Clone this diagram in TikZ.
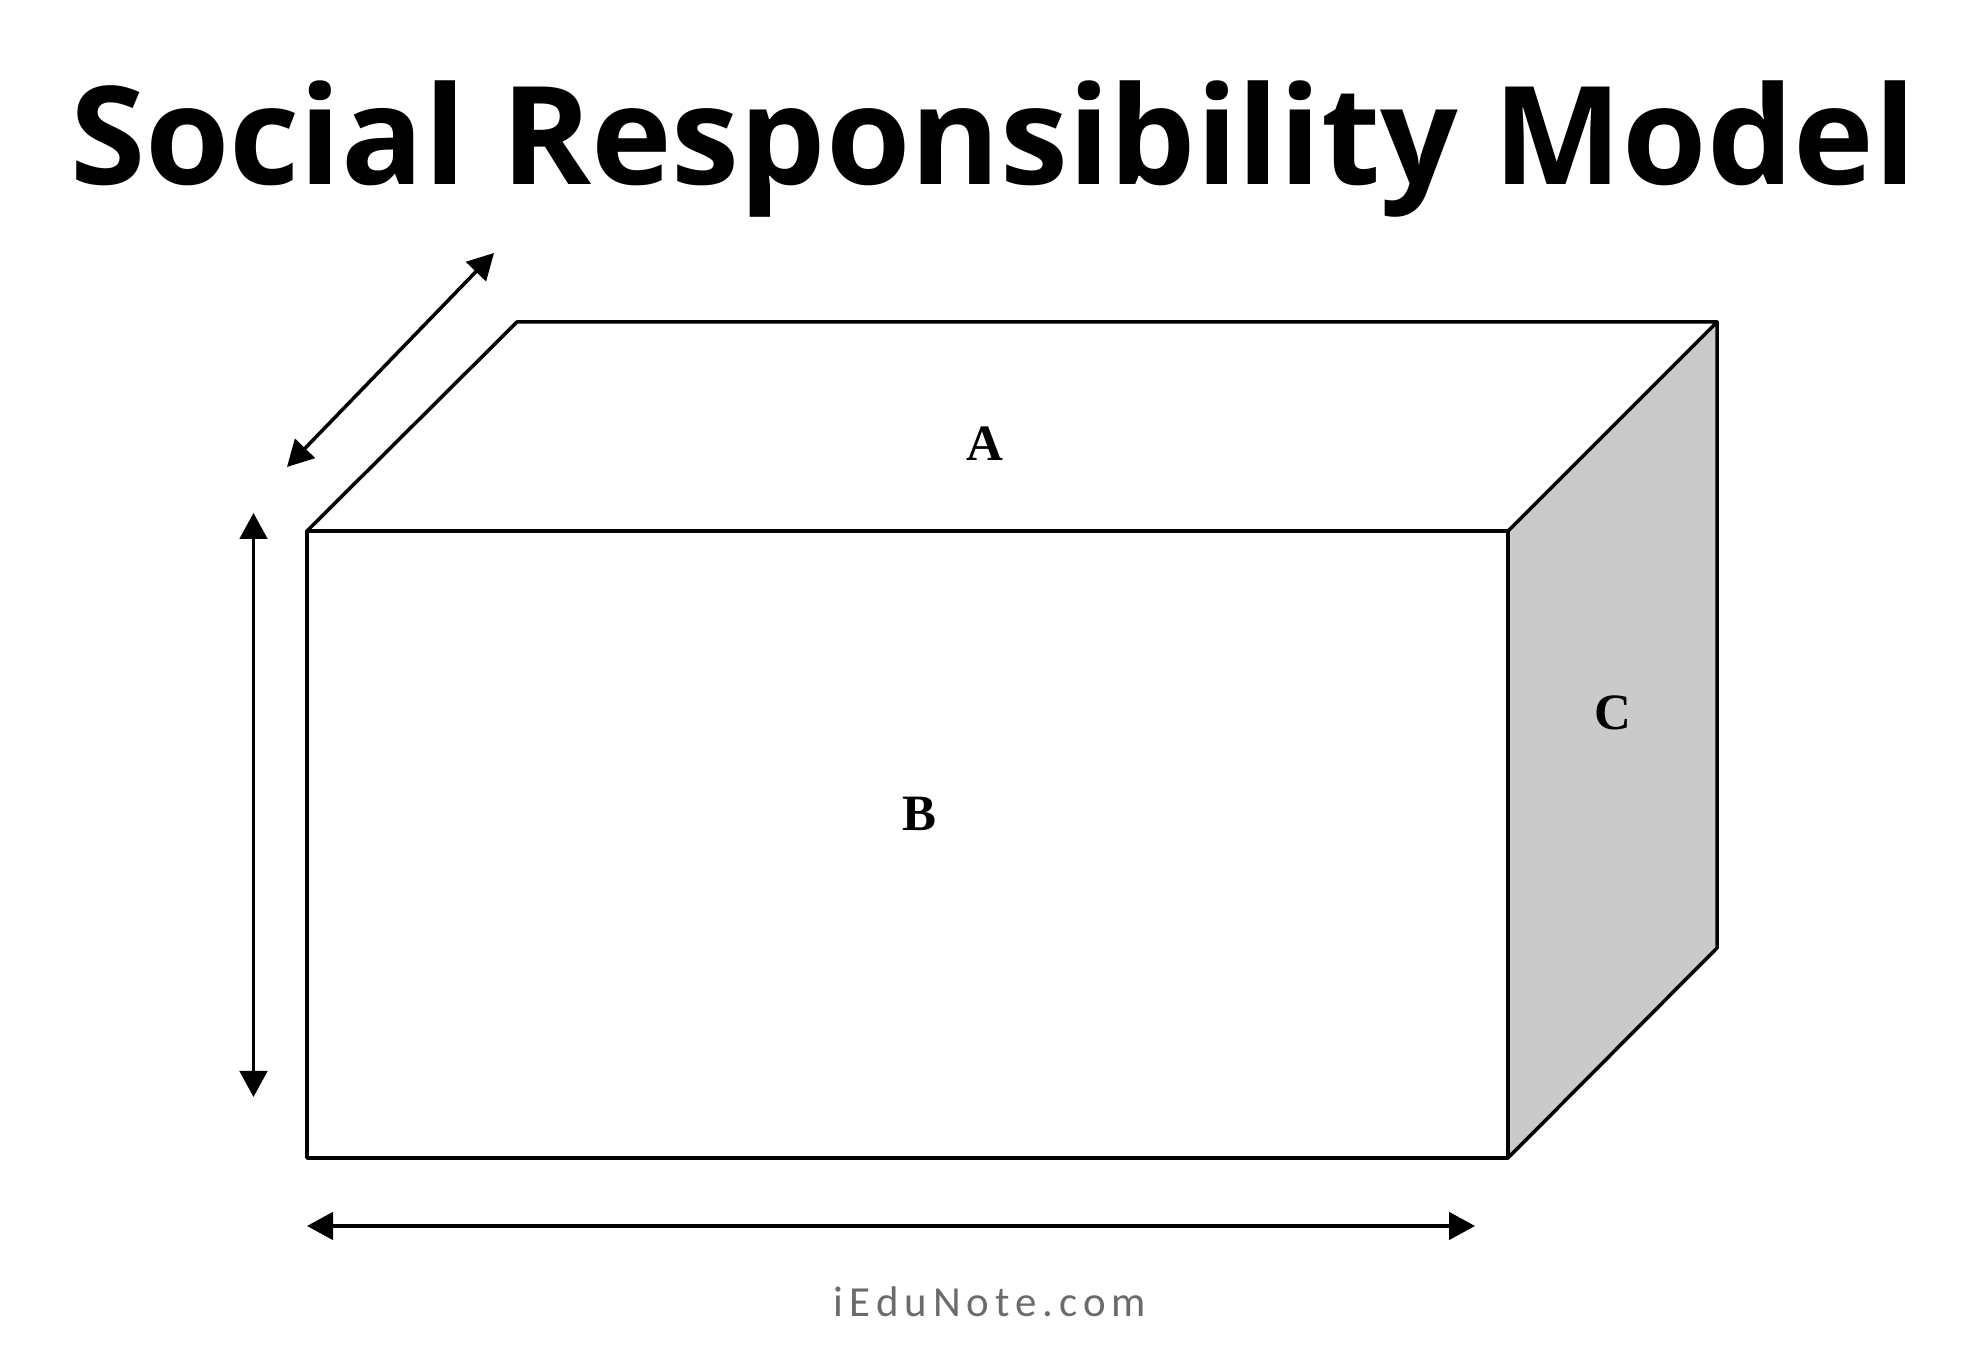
\documentclass[tikz,border=0pt]{standalone}
\usepackage{fontspec}
\usetikzlibrary{arrows.meta,positioning}
\setmainfont{Open Sans}
\newfontfamily\labelfont{Liberation Serif}
\newfontfamily\markfont[LetterSpace=14]{Carlito}
\definecolor{sidegray}{HTML}{CACACA}
\definecolor{markgray}{HTML}{6E6A6A}
\tikzset{
  edge/.style={line width=1pt,line join=round},
  dimarrow/.style={line width=1pt,{Triangle[length=7.4pt,width=7.8pt]}-{Triangle[length=7.4pt,width=7.8pt]}},
  facelabel/.style={font=\labelfont\fontsize{14.5}{14.5}\selectfont\bfseries}
}
\begin{document}
\begin{tikzpicture}[thick]
\useasboundingbox (0,0) rectangle (19.8,13.49);

% Title
\node[anchor=base,inner sep=0pt,font=\fontsize{38.85}{38.85}\selectfont\bfseries] (title) at (9.93,11.64) {Social Responsibility Model};

% Corners
\coordinate (ftl) at (3.07,8.18);
\coordinate (ftr) at (15.08,8.18);
\coordinate (fbl) at (3.07,1.91);
\coordinate (fbr) at (15.08,1.91);
\coordinate (btl) at (5.17,10.27);
\coordinate (btr) at (17.17,10.27);
\coordinate (bbr) at (17.17,4.01);

% Faces
\draw[edge,fill=sidegray] (ftr) -- (btr) -- (bbr) -- (fbr) -- cycle;
\draw[edge,fill=white] (ftl) -- (btl) -- (btr) -- (ftr) -- cycle;
\draw[edge,fill=white] (ftl) rectangle (fbr);

% Labels
\node[facelabel] (a) at (9.85,9.05) {A};
\node[facelabel] (b) at (9.19,5.35) {B};
\node[facelabel] (c) at (16.13,6.36) {C};

% Dimension arrows
\coordinate (d1) at (2.87,8.82);
\coordinate (d2) at (4.94,10.96);
\coordinate (h1) at (2.535,8.36);
\coordinate (h2) at (2.535,2.52);
\coordinate (w1) at (3.07,1.23);
\coordinate (w2) at (14.75,1.23);
\draw[dimarrow] (d1) -- (d2);
\draw[dimarrow] (h1) -- (h2);
\draw[dimarrow] (w1) -- (w2);

% Site name
\node[inner sep=0pt,text=markgray,font=\markfont\fontsize{12.2}{12.2}\selectfont] (site) at (9.9,0.47) {iEduNote.com};
\end{tikzpicture}
\end{document}
